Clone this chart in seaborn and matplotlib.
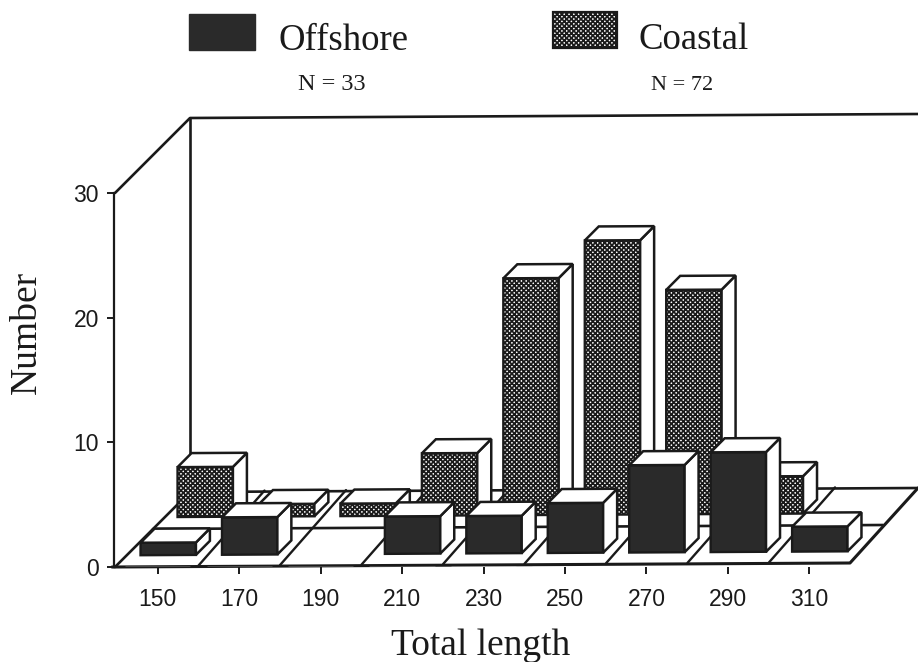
import numpy as np
import pandas as pd
import seaborn as sns
import matplotlib.pyplot as plt
from matplotlib.patches import Polygon, Rectangle
from matplotlib.lines import Line2D
from matplotlib.transforms import Affine2D

lengths = ["150", "170", "190", "210", "230", "250", "270", "290", "310"]
offshore = [1, 3, 0, 3, 3, 4, 7, 8, 2]
coastal = [4, 1, 1, 5, 19, 22, 18, 3, 0]
y_ticks = [0, 10, 20, 30]

DARK = "#2a2a2a"
W, H = 918, 662

sns.set_theme(style="white")
plt.rcParams["hatch.linewidth"] = 1.25
plt.rcParams["font.family"] = ["Liberation Sans", "DejaVu Sans"]

fig = plt.figure(figsize=(W / 100, H / 100), dpi=100, facecolor="white")


# axes rectangle from pixel positions measured on the page (y from top)
def make_axes(left, right, bottom, top, z):
    ax = fig.add_axes([left / W, 1 - bottom / H, (right - left) / W, (bottom - top) / H], zorder=z)
    ax.patch.set_visible(False)
    ax.set_ylim(0, 30)
    return ax


def page_line(xs, ys, lw=1.9, z=1):
    fig.add_artist(Line2D([x / W for x in xs], [1 - y / H for y in ys], color="#1a1a1a", lw=lw, zorder=z))


# base axes only carries the ticks and the y spine
base = make_axes(117, 850, 567, 193, 1)
sns.barplot(x=lengths, y=[0] * 9, ax=base, color="white")
base.set_ylim(0, 30)
base.set_yticks(y_ticks)
base.tick_params(axis="both", length=5, width=1.4, labelsize=16.5, color="#1a1a1a", labelcolor="#1a1a1a", pad=6, bottom=True, left=True)
base.tick_params(axis="x", pad=10)
sns.despine(ax=base, bottom=True, right=True, top=True)
base.spines["left"].set_position(("outward", 2))
base.spines["left"].set_color("#1a1a1a")
base.spines["left"].set_linewidth(1.6)
base.set_xlabel("")
base.set_ylabel("")

# walls and floor of the box
page_line([115, 190, 918], [193, 118, 114])
page_line([190, 190], [118, 492])
page_line([115, 190, 918], [567, 492, 488])
page_line([112, 850, 918], [567, 563, 488], lw=2.2)
page_line([153, 883], [529, 525])
for k in range(1, 9):
    x0 = 117 + 81.5 * k
    page_line([x0, x0 + 66], [566 - 0.45 * k, 491 - 0.45 * k], lw=1.7)

tilt = Affine2D().skew(0, np.arctan(0.0055))


def draw_row(values, left, right, bottom, z, color, hatch=None):
    ax = make_axes(left, right, bottom, bottom - 374, z)
    df = pd.DataFrame({"length": lengths, "n": values})
    sns.barplot(data=df, x="length", y="n", ax=ax, color=color, saturation=1, width=0.68,
                edgecolor="#1a1a1a", linewidth=1.7)
    ax.set_ylim(0, 30)
    ax.axis("off")
    d = 14
    for bar in ax.patches:
        if bar.get_height() == 0:
            bar.set_visible(False)
            continue
        if hatch:
            bar.set_hatch(hatch)
        bar.set_transform(ax.transData + tilt)
        bar.set_clip_on(False)
        x0, x1 = bar.get_x(), bar.get_x() + bar.get_width()
        (px0, py0), (px1, py1) = ax.transData.transform([(x0, 0), (x1, bar.get_height())])
        side = [(px1, py0), (px1 + d, py0 + d), (px1 + d, py1 + d), (px1, py1)]
        top = [(px0, py1), (px0 + d, py1 + d), (px1 + d, py1 + d), (px1, py1)]
        for pts in (side, top):
            fig.add_artist(Polygon(pts, closed=True, facecolor="white", edgecolor="#1a1a1a", lw=1.8,
                                   transform=tilt, zorder=z + 0.5))
    return ax


draw_row(coastal, 164.5, 897.5, 518, 2, "white", hatch="xxxxxxx")
draw_row(offshore, 127.5, 860.5, 556, 4, DARK)

# legend and labels
fig.add_artist(Rectangle((189 / W, 1 - 50 / H), 66 / W, 36 / H, facecolor=DARK, edgecolor=DARK, transform=fig.transFigure))
fig.add_artist(Rectangle((553 / W, 1 - 48 / H), 64 / W, 36 / H, facecolor="white", edgecolor="#1a1a1a", hatch="xxxxxxx",
                         lw=1.6, transform=fig.transFigure))
serif = ["Liberation Serif", "DejaVu Serif"]
tc = "#1a1a1a"
fig.text(278 / W, 1 - 41 / H, "Offshore", family=serif, size=26.5, color=tc, va="center")
fig.text(638 / W, 1 - 40 / H, "Coastal", family=serif, size=26.5, color=tc, va="center")
fig.text(332 / W, 1 - 85 / H, "N = 33", family=serif, size=17.5, color=tc, va="center", ha="center")
fig.text(682 / W, 1 - 85 / H, "N = 72", family=serif, size=16, color=tc, va="center", ha="center")
fig.text(481 / W, 1 - 646 / H, "Total length", family=serif, size=27, color=tc, va="center", ha="center")
fig.text(27 / W, 1 - 332 / H, "Number", family=serif, size=27, color=tc, va="center", ha="center", rotation=90)

fig.savefig("out.png", dpi=100, facecolor="white")
